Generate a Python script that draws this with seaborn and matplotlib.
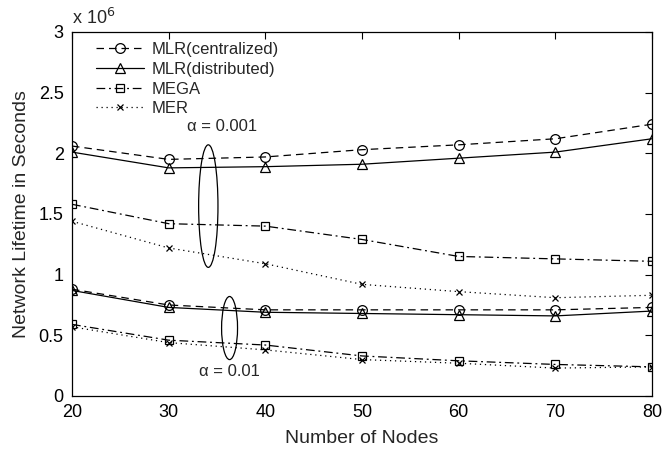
import matplotlib
matplotlib.use("Agg")
import matplotlib.pyplot as plt
from matplotlib.patches import Ellipse
from matplotlib.lines import Line2D
import seaborn as sns

sns.set_style("white")
plt.rcParams['font.family'] = ['Liberation Sans', 'DejaVu Sans']

nodes = [20, 30, 40, 50, 60, 70, 80]
series_names = ["MLR(centralized)", "MLR(distributed)", "MEGA", "MER"]

# values in units of 10^6 seconds
mlr_c_001 = [2.06, 1.95, 1.97, 2.03, 2.07, 2.12, 2.24]
mlr_d_001 = [2.01, 1.88, 1.89, 1.91, 1.96, 2.01, 2.12]
mega_001 = [1.58, 1.42, 1.40, 1.29, 1.15, 1.13, 1.11]
mer_001 = [1.44, 1.22, 1.09, 0.92, 0.86, 0.81, 0.83]

mlr_c_01 = [0.88, 0.75, 0.71, 0.71, 0.71, 0.71, 0.73]
mlr_d_01 = [0.87, 0.73, 0.69, 0.68, 0.67, 0.66, 0.70]
mega_01 = [0.59, 0.46, 0.42, 0.33, 0.29, 0.26, 0.24]
mer_01 = [0.57, 0.44, 0.38, 0.30, 0.27, 0.23, 0.24]

styles = {
    "MLR(centralized)": dict(ls=(0, (6, 4)), marker="o", ms=7),
    "MLR(distributed)": dict(ls="-", marker="^", ms=7),
    "MEGA": dict(ls=(0, (7, 3, 1.5, 3)), marker="s", ms=6),
    "MER": dict(ls=(0, (1, 3)), marker="x", ms=5),
}

fig = plt.figure(figsize=(6.63, 4.55), dpi=100)
ax = fig.add_axes([0.1086, 0.1297, 0.8748, 0.80])

groups = [
    (mlr_c_001, mlr_d_001, mega_001, mer_001),
    (mlr_c_01, mlr_d_01, mega_01, mer_01),
]
for grp in groups:
    for name, vals in zip(series_names, grp):
        st = styles[name]
        sns.lineplot(x=nodes, y=vals, ax=ax, color="black", lw=0.9,
                     linestyle=st["ls"], marker=st["marker"], markersize=st["ms"],
                     markerfacecolor="none", markeredgecolor="black",
                     markeredgewidth=0.9, legend=False)

handles = []
for name in series_names:
    st = styles[name]
    handles.append(Line2D([], [], color="black", lw=0.9, linestyle=st["ls"],
                          marker=st["marker"], markersize=st["ms"],
                          markerfacecolor="none", markeredgewidth=0.9))
leg = ax.legend(handles, series_names, loc="upper left", frameon=False,
                fontsize=12, handlelength=2.9, handletextpad=0.45,
                labelspacing=0.28, borderaxespad=0.0,
                bbox_to_anchor=(0.03, 0.99))

# annotation ellipses
ax.add_patch(Ellipse((34.1, 1.565), 2.0, 1.01, fill=False, ec="black", lw=0.9))
ax.add_patch(Ellipse((36.3, 0.56), 1.65, 0.52, fill=False, ec="black", lw=0.9))
ax.text(35.5, 2.22, "α = 0.001", ha="center", va="center", fontsize=12)
ax.text(36.3, 0.20, "α = 0.01", ha="center", va="center", fontsize=12)

ax.set_xlim(20, 80)
ax.set_ylim(0, 3)
ax.set_xticks(nodes)
ax.set_yticks([0, 0.5, 1, 1.5, 2, 2.5, 3])
ax.set_yticklabels(["0", "0.5", "1", "1.5", "2", "2.5", "3"])
ax.tick_params(direction="in", length=5, width=0.8, top=True, right=True,
               labelsize=13, pad=6, colors="black")
for sp in ax.spines.values():
    sp.set_visible(True)
    sp.set_color("black")
    sp.set_linewidth(0.9)

ax.set_xlabel("Number of Nodes", fontsize=14, labelpad=6)
ax.set_ylabel("Network Lifetime in Seconds", fontsize=14, labelpad=6)
ax.text(0.0, 1.012, r"x 10$^6$", transform=ax.transAxes, fontsize=13,
        ha="left", va="bottom")

fig.savefig("out.png", dpi=100)
